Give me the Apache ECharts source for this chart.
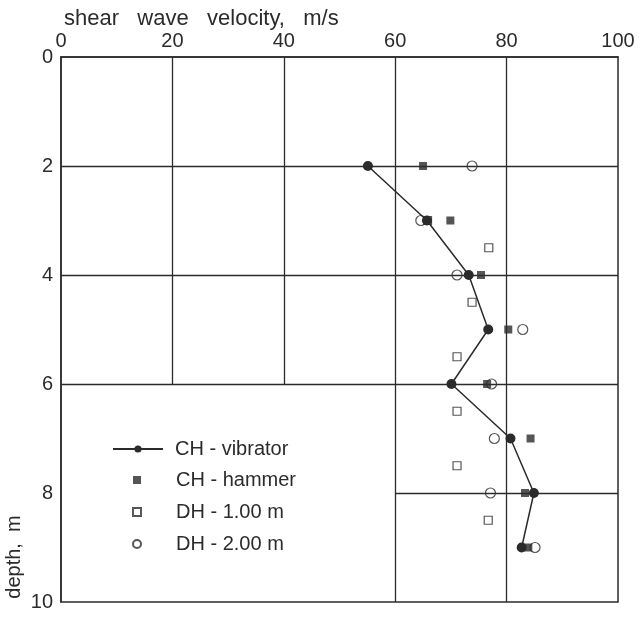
<!DOCTYPE html>
<html>
<head>
<meta charset="utf-8">
<script src="https://cdn.jsdelivr.net/npm/echarts@6/dist/echarts.min.js"></script>
<style>
  html, body { margin: 0; padding: 0; background: #fff; }
  #main { width: 641px; height: 617px; }
</style>
</head>
<body>
<div id="main"></div>
<script>
// depth in m (y), velocity in m/s (x)
const vibDepth = [2, 3, 4, 5, 6, 7, 8, 9]
const vibVel = [55.1, 65.7, 73.2, 76.7, 70.1, 80.7, 84.9, 82.7]

const hamDepth = [2, 3, 4, 5, 6, 7, 8, 9]
const hamVel = [65.0, 69.9, 75.4, 80.3, 76.5, 84.3, 83.3, 83.9]

const dh1Depth = [3, 3.5, 4.5, 5.5, 6.5, 7.5, 8.5]
const dh1Vel = [65.8, 76.8, 73.8, 71.1, 71.1, 71.1, 76.7]

const dh2Depth = [2, 3, 4, 5, 6, 7, 8, 9]
const dh2Vel = [73.8, 64.6, 71.1, 82.9, 77.3, 77.8, 77.1, 85.1]

const xTicks = [0, 20, 40, 60, 80, 100]
const yTicks = [0, 2, 4, 6, 8, 10]

// grid segments [x1, y1, x2, y2] (data units)
const gridSegs = [
  [20, 0, 20, 6], [40, 0, 40, 6], [60, 0, 60, 10], [80, 0, 80, 10],
  [0, 2, 100, 2], [0, 4, 100, 4], [0, 6, 100, 6], [60, 8, 100, 8]
]

const pairs = (xs, ys) => xs.map((x, i) => [x, ys[i]])

const ink = '#2b2b2b'
const font = 'Liberation Sans'
const legendText = { fontFamily: font, fontSize: 20, color: ink }

const chart = echarts.init(document.getElementById('main'))
chart.setOption({
  animation: false,
  textStyle: { fontFamily: font, color: ink },
  title: {
    text: 'shear   wave   velocity,   m/s',
    left: 59,
    top: 3,
    textStyle: { fontFamily: font, fontSize: 22, fontWeight: 'normal', color: ink }
  },
  graphic: [{
    type: 'text',
    x: 14,
    y: 557,
    rotation: Math.PI / 2,
    style: {
      text: 'depth,  m',
      fontFamily: font,
      fontSize: 20,
      fill: ink,
      textAlign: 'center',
      textVerticalAlign: 'middle'
    }
  }],
  legend: [
    {
      orient: 'vertical',
      left: 107,
      top: 434,
      itemWidth: 50,
      itemHeight: 9,
      textStyle: Object.assign({ padding: [0, 0, 0, 7] }, legendText),
      data: ['CH - vibrator']
    },
    {
      orient: 'vertical',
      left: 127,
      top: 465,
      itemWidth: 8,
      itemHeight: 8,
      itemGap: 12,
      textStyle: Object.assign({ padding: [0, 0, 0, 30] }, legendText),
      data: ['CH - hammer', 'DH - 1.00 m', 'DH - 2.00 m']
    }
  ],
  grid: {
    left: 61,
    right: 23,
    top: 57,
    bottom: 15,
    show: true,
    borderColor: ink,
    borderWidth: 1.5
  },
  xAxis: {
    type: 'value',
    position: 'top',
    min: xTicks[0],
    max: xTicks[xTicks.length - 1],
    interval: 20,
    axisLine: { show: true, lineStyle: { color: ink, width: 1.5 } },
    axisTick: { show: false },
    splitLine: { show: false },
    axisLabel: { fontFamily: font, fontSize: 20, color: ink, margin: 6 }
  },
  yAxis: {
    type: 'value',
    inverse: true,
    min: yTicks[0],
    max: yTicks[yTicks.length - 1],
    interval: 2,
    axisLine: { show: true, lineStyle: { color: ink, width: 1.5 } },
    axisTick: { show: false },
    splitLine: { show: false },
    axisLabel: { fontFamily: font, fontSize: 20, color: ink, margin: 8 }
  },
  series: [
    {
      name: 'grid',
      type: 'line',
      data: [],
      silent: true,
      markLine: {
        symbol: 'none',
        silent: true,
        label: { show: false },
        lineStyle: { color: ink, width: 1.3, type: 'solid' },
        data: gridSegs.map(s => [{ coord: [s[0], s[1]] }, { coord: [s[2], s[3]] }])
      }
    },
    {
      name: 'CH - vibrator',
      type: 'line',
      data: pairs(vibVel, vibDepth),
      symbol: 'circle',
      symbolSize: 10,
      itemStyle: { color: ink },
      lineStyle: { color: ink, width: 1.5 },
      z: 5
    },
    {
      name: 'CH - hammer',
      type: 'scatter',
      data: pairs(hamVel, hamDepth),
      symbol: 'rect',
      symbolSize: 8,
      itemStyle: { color: ink },
      z: 4
    },
    {
      name: 'DH - 1.00 m',
      type: 'scatter',
      data: pairs(dh1Vel, dh1Depth),
      symbol: 'rect',
      symbolSize: 8,
      itemStyle: { color: '#fff', borderColor: ink, borderWidth: 1.2 },
      z: 3
    },
    {
      name: 'DH - 2.00 m',
      type: 'scatter',
      data: pairs(dh2Vel, dh2Depth),
      symbol: 'circle',
      symbolSize: 10,
      itemStyle: { color: '#fff', borderColor: ink, borderWidth: 1.2 },
      z: 3
    }
  ]
})
</script>
</body>
</html>
